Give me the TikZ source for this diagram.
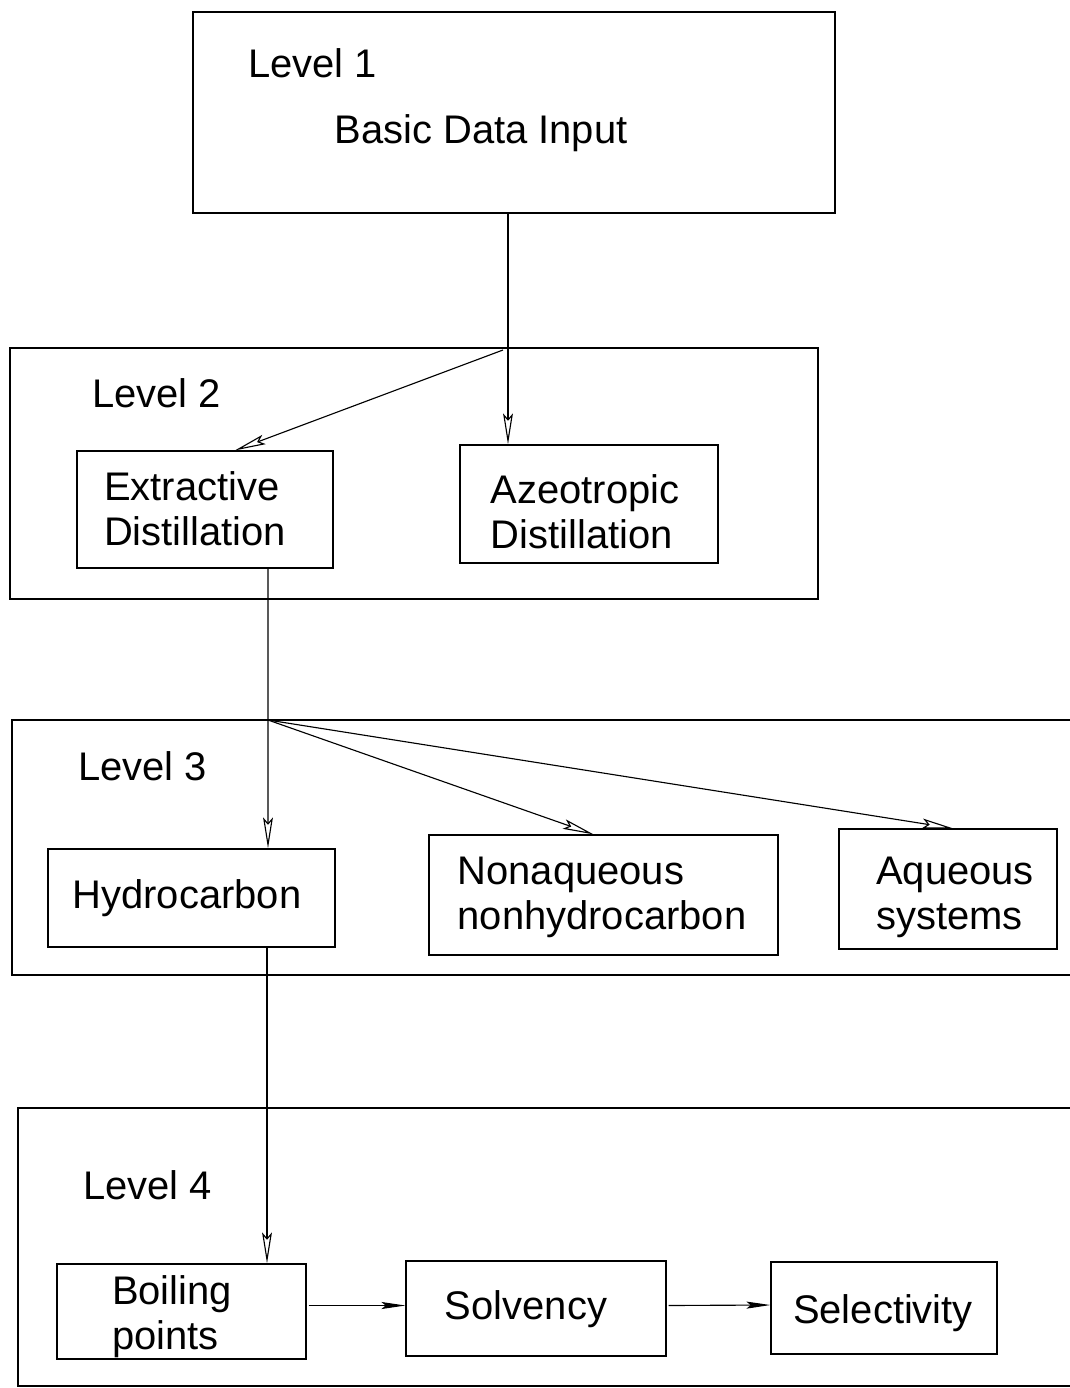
\documentclass[tikz,border=0pt]{standalone}
\usepackage{fontspec}
\setmainfont{Liberation Sans}
\usetikzlibrary{arrows.meta,fit,calc}
\begin{document}
\begin{tikzpicture}[x=0.025cm,y=-0.025cm,
		every node/.style={font=\fontsize{28.4}{32}\selectfont},
		frame/.style={draw,line width=1pt,inner sep=0pt},
		box/.style={draw,line width=0.9pt,inner sep=0pt},
		txt/.style={inner sep=0pt,align=left},
		tag/.style={anchor=west,inner sep=0pt},
		branch/.style={-{Stealth[open,length=22pt,width=7pt,inset=4pt]},line width=0.8pt},
		flow/.style={-{Stealth[length=17pt,width=5pt,inset=3pt]},line width=0.8pt}]
		\useasboundingbox (0,0) rectangle (1070,1388);
		% level frames
		\foreach \n/\a/\b in {L1/{193,12}/{835,213},L2/{10,348}/{818,599},L3/{12,720}/{1090,975},L4/{18,1108}/{1090,1386}}
			\node[frame,fit={(\a) (\b)}] (\n) {};
		\foreach \n/\p in {1/{248,63},2/{92,393},3/{78,766},4/{83,1185}}
			\node[tag] (lev\n) at (\p) {Level \n};
		\node[txt] (input) at (481,133) {Basic Data Input};
		% boxes
		\foreach \n/\a/\b/\p/\t in {ext/{77,451}/{333,568}/{195,509}/{Extractive\\Distillation},azeo/{460,445}/{718,563}/{585,512}/{Azeotropic\\Distillation},
				hydro/{48,849}/{335,947}/{187,898}/{Hydrocarbon},nonaq/{429,835}/{778,955}/{602,897}/{Nonaqueous\\nonhydrocarbon},aq/{839,829}/{1057,949}/{955,897}/{Aqueous\\systems},
				boil/{57,1264}/{306,1359}/{172,1317}/{Boiling\\points},solv/{406,1261}/{666,1356}/{526,1309}/{Solvency},sel/{771,1262}/{997,1354}/{883,1313}/{Selectivity}}
			{\node[box,fit={(\a) (\b)}] (\n) {};
			\node[txt] (t\n) at (\p) {\t};}
		\coordinate (j2) at (503,350);
		\coordinate (j3) at (268,720);
		\draw[branch] ($(L1.south)+(-6,0)$) -- ($(azeo.north)+(-81,0)$);
		\draw[branch] (j2) -- ($(ext.north)+(30,0)$);
		\draw[branch] ($(ext.south)+(63,0)$) -- ($(hydro.north)+(76.5,0)$);
		\draw[branch] (j3) -- ($(nonaq.north)+(-10,0)$);
		\draw[branch] (j3) -- ($(aq.north)+(5,0)$);
		\draw[branch] ($(hydro.south)+(75.5,0)$) -- ($(boil.north)+(85.5,0)$);
		\draw[flow] ($(boil.east)+(2,-6)$) -- ($(solv.west)+(0,-3)$);
		\draw[flow] ($(solv.east)+(2,-3)$) -- ($(sel.west)+(0,-3)$);
	\end{tikzpicture}
\end{document}
